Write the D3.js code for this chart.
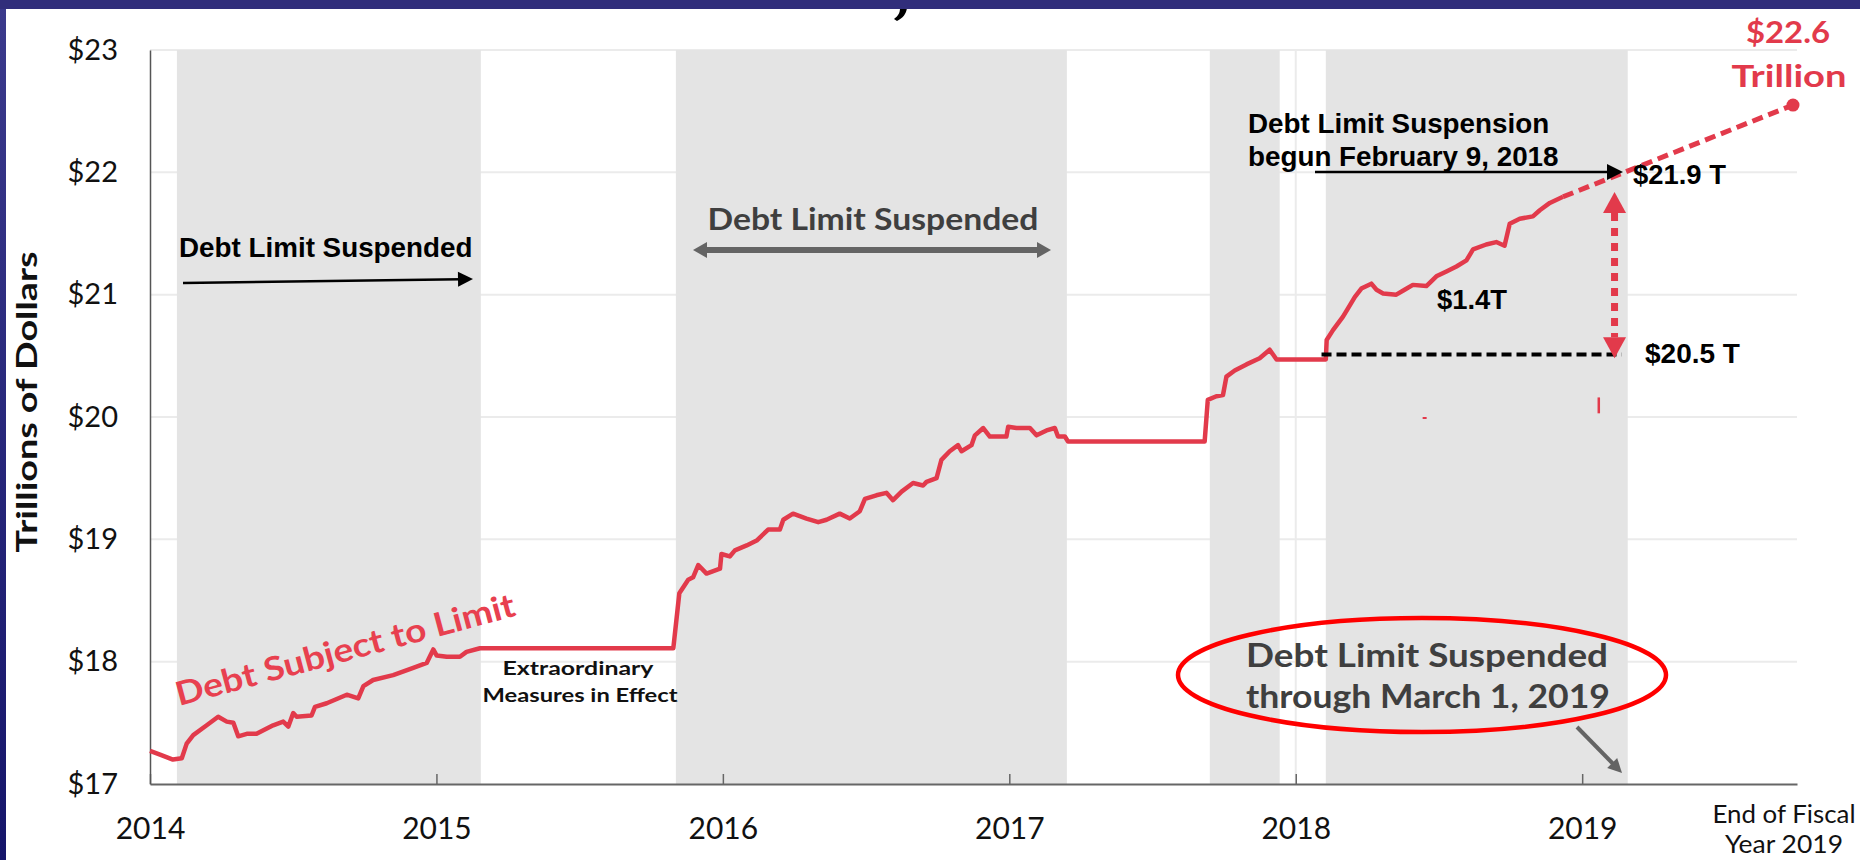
<!DOCTYPE html>
<html>
<head>
<meta charset="utf-8">
<script src="https://cdn.jsdelivr.net/npm/d3@7"></script>
<style>
  body { margin: 0; background: #fff; }
  svg { display: block; }
  .gill { font-family: Lato, "Open Sans", sans-serif; }
  .arial { font-family: "Liberation Sans", Arial, sans-serif; font-weight: bold; }
</style>
</head>
<body>
<svg id="chart"></svg>
<script>
// Chart data
const years = [2014, 2015, 2016, 2017, 2018, 2019];
const dollarTicks = [17, 18, 19, 20, 21, 22, 23];

// debt limit suspension periods [start, end] in decimal years
const suspensions = [
    [2014.094, 2015.155],
    [2015.836, 2017.201],
    [2017.700, 2017.944],
    [2018.105, 2019.159]
];

// debt subject to limit, trillions [decimal year, value]
const debtSubjectToLimit = [
    [2014.000, 17.27], [2014.035, 17.24], [2014.080, 17.20], [2014.111, 17.21], [2014.128, 17.33],
    [2014.151, 17.40], [2014.198, 17.48], [2014.238, 17.55], [2014.268, 17.51], [2014.291, 17.50],
    [2014.308, 17.39], [2014.338, 17.41], [2014.372, 17.41], [2014.430, 17.48], [2014.465, 17.51],
    [2014.483, 17.47], [2014.500, 17.58], [2014.512, 17.55], [2014.564, 17.56], [2014.576, 17.63],
    [2014.617, 17.66], [2014.687, 17.73], [2014.727, 17.70], [2014.745, 17.80], [2014.779, 17.85],
    [2014.849, 17.89], [2014.919, 17.95], [2014.966, 17.99], [2014.989, 18.10], [2015.001, 18.05],
    [2015.036, 18.04], [2015.082, 18.04], [2015.105, 18.08], [2015.152, 18.11], [2015.827, 18.11],
    [2015.848, 18.56], [2015.879, 18.67], [2015.896, 18.69], [2015.914, 18.79], [2015.943, 18.72],
    [2015.990, 18.76], [2015.995, 18.88], [2016.024, 18.86], [2016.042, 18.91], [2016.083, 18.95],
    [2016.118, 18.99], [2016.158, 19.08], [2016.199, 19.08], [2016.211, 19.16], [2016.245, 19.21],
    [2016.292, 19.17], [2016.333, 19.14], [2016.362, 19.16], [2016.408, 19.21], [2016.443, 19.17],
    [2016.478, 19.23], [2016.496, 19.33], [2016.536, 19.36], [2016.571, 19.38], [2016.594, 19.32],
    [2016.624, 19.39], [2016.664, 19.46], [2016.699, 19.44], [2016.711, 19.47], [2016.746, 19.50],
    [2016.763, 19.65], [2016.792, 19.72], [2016.821, 19.77], [2016.833, 19.72], [2016.868, 19.77],
    [2016.880, 19.85], [2016.909, 19.91], [2016.932, 19.84], [2016.990, 19.84], [2016.996, 19.92],
    [2017.025, 19.91], [2017.072, 19.91], [2017.095, 19.85], [2017.130, 19.89], [2017.159, 19.91],
    [2017.170, 19.84], [2017.194, 19.84], [2017.205, 19.80], [2017.682, 19.80], [2017.693, 20.14],
    [2017.723, 20.17], [2017.746, 20.18], [2017.758, 20.33], [2017.787, 20.38], [2017.828, 20.43],
    [2017.874, 20.48], [2017.909, 20.55], [2017.933, 20.47], [2018.105, 20.47], [2018.108, 20.63],
    [2018.130, 20.71], [2018.165, 20.82], [2018.183, 20.89], [2018.206, 20.98], [2018.229, 21.05],
    [2018.264, 21.09], [2018.282, 21.04], [2018.305, 21.01], [2018.351, 21.00], [2018.380, 21.04],
    [2018.409, 21.08], [2018.456, 21.07], [2018.491, 21.15], [2018.526, 21.19], [2018.561, 21.23],
    [2018.596, 21.28], [2018.619, 21.37], [2018.665, 21.41], [2018.700, 21.43], [2018.729, 21.40],
    [2018.747, 21.58], [2018.782, 21.62], [2018.828, 21.64], [2018.852, 21.69], [2018.887, 21.75],
    [2018.933, 21.80]
];

// projected path to end of fiscal year 2019
const projection = [[2018.933, 21.80], [2019.736, 22.55]];

// suspension gap markers
const limitAtSuspension = 20.51;
const gapArrow = { year: 2019.113, from: 20.48, to: 21.84 };

const red = "#e23a4b";

const svg = d3.select("#chart")
    .attr("width", 1860)
    .attr("height", 860);

const x = d3.scaleLinear().domain([2014, 2019.75]).range([150, 1797]);
const y = d3.scaleLinear().domain([17, 23]).range([784, 50]);

// tail of the cut-off slide title
svg.append("path")
    .attr("d", "M900,8 L907,8 C906,14 903,18 897,21 L894,19 C898,16 900,13 900,8 Z")
    .attr("fill", "#000");

// gridlines
svg.append("g").selectAll("line")
    .data(dollarTicks.slice(1))
    .enter().append("line")
    .attr("x1", x(2014)).attr("x2", x(2019.75))
    .attr("y1", d => y(d)).attr("y2", d => y(d))
    .attr("stroke", "#ebebeb").attr("stroke-width", 2);

svg.append("g").selectAll("line")
    .data(years.slice(1))
    .enter().append("line")
    .attr("x1", d => x(d)).attr("x2", d => x(d))
    .attr("y1", y(23)).attr("y2", y(17))
    .attr("stroke", "#ebebeb").attr("stroke-width", 2);

// suspension bands
svg.append("g").selectAll("rect")
    .data(suspensions)
    .enter().append("rect")
    .attr("x", d => x(d[0]))
    .attr("width", d => x(d[1]) - x(d[0]))
    .attr("y", y(23))
    .attr("height", y(17) - y(23))
    .attr("fill", "#e4e4e4");

// axes
const xAxis = svg.append("g")
    .attr("transform", `translate(0,${y(17)})`)
    .call(d3.axisBottom(x).tickValues(years).tickFormat(d3.format("d")).tickSize(-10).tickSizeOuter(0));
xAxis.select(".domain").attr("stroke", "#666").attr("stroke-width", 2);
xAxis.selectAll(".tick line").attr("stroke", "#666").attr("stroke-width", 1.5);
xAxis.selectAll(".tick text")
    .attr("class", "gill")
    .attr("y", 55).attr("dy", 0)
    .attr("fill", "#111")
    .style("font-size", "30px");

const yAxis = svg.append("g")
    .attr("transform", `translate(${x(2014)},0)`)
    .call(d3.axisLeft(y).tickValues(dollarTicks).tickFormat(d => "$" + d).tickSize(0).tickPadding(32));
yAxis.select(".domain").attr("stroke", "#555").attr("stroke-width", 1.5);
yAxis.selectAll(".tick text")
    .attr("class", "gill")
    .attr("fill", "#111")
    .style("font-size", "29px");

svg.append("text")
    .attr("class", "gill")
    .attr("transform", "translate(37,402) rotate(-90)")
    .attr("text-anchor", "middle")
    .attr("textLength", 301).attr("lengthAdjust", "spacingAndGlyphs")
    .style("font-size", "29px").style("font-weight", "bold")
    .attr("fill", "#111")
    .text("Trillions of Dollars");

const fiscal = svg.append("text")
    .attr("class", "gill")
    .attr("text-anchor", "middle")
    .attr("fill", "#111")
    .style("font-size", "25px");
fiscal.append("tspan").attr("x", 1784).attr("y", 823)
    .attr("textLength", 143).attr("lengthAdjust", "spacingAndGlyphs").text("End of Fiscal");
fiscal.append("tspan").attr("x", 1784).attr("y", 853)
    .attr("textLength", 118).attr("lengthAdjust", "spacingAndGlyphs").text("Year 2019");

// debt line
const line = d3.line()
    .x(d => x(d[0]))
    .y(d => y(d[1]));

svg.append("path")
    .datum(debtSubjectToLimit)
    .attr("d", line)
    .attr("fill", "none")
    .attr("stroke", red)
    .attr("stroke-width", 4.5)
    .attr("stroke-linejoin", "round");

svg.append("path")
    .datum(projection)
    .attr("d", line)
    .attr("fill", "none")
    .attr("stroke", red)
    .attr("stroke-width", 5)
    .attr("stroke-dasharray", "11,6");

svg.append("circle")
    .attr("cx", x(projection[1][0]))
    .attr("cy", y(projection[1][1]))
    .attr("r", 6.5)
    .attr("fill", red);

// helper for straight arrows
function arrow(x1, y1, x2, y2, color, width, headLen, headW, both) {
    const a = Math.atan2(y2 - y1, x2 - x1);
    const c = Math.cos(a), s = Math.sin(a);
    const g = svg.append("g");
    g.append("line")
        .attr("x1", both ? x1 + c * headLen * 0.8 : x1).attr("y1", both ? y1 + s * headLen * 0.8 : y1)
        .attr("x2", x2 - c * headLen * 0.8).attr("y2", y2 - s * headLen * 0.8)
        .attr("stroke", color).attr("stroke-width", width);
    const head = (tx, ty, dir) => {
        const bx = tx - dir * c * headLen, by = ty - dir * s * headLen;
        g.append("polygon")
            .attr("points", [
                [tx, ty],
                [bx - s * headW / 2, by + c * headW / 2],
                [bx + s * headW / 2, by - c * headW / 2]
            ].map(p => p.join(",")).join(" "))
            .attr("fill", color);
    };
    head(x2, y2, 1);
    if (both) head(x1, y1, -1);
}

// first suspension
svg.append("text")
    .attr("class", "arial")
    .attr("x", 179).attr("y", 257)
    .style("font-size", "27.8px")
    .text("Debt Limit Suspended");
arrow(183, 283, 473, 279, "#000", 2.5, 15, 15, false);

// second suspension
svg.append("text")
    .attr("class", "gill")
    .attr("x", 873).attr("y", 230)
    .attr("text-anchor", "middle")
    .attr("textLength", 331).attr("lengthAdjust", "spacingAndGlyphs")
    .style("font-size", "30px").style("font-weight", "bold")
    .attr("fill", "#3f3f3f")
    .text("Debt Limit Suspended");
arrow(693, 250, 1051, 250, "#646464", 6, 14, 16, true);

// extraordinary measures
const extra = svg.append("text")
    .attr("class", "gill")
    .attr("text-anchor", "middle")
    .attr("fill", "#111")
    .style("font-size", "19px").style("font-weight", "bold");
extra.append("tspan").attr("x", 578).attr("y", 675)
    .attr("textLength", 151).attr("lengthAdjust", "spacingAndGlyphs").text("Extraordinary");
extra.append("tspan").attr("x", 580).attr("y", 702)
    .attr("textLength", 195).attr("lengthAdjust", "spacingAndGlyphs").text("Measures in Effect");

// series label
svg.append("text")
    .attr("class", "gill")
    .attr("transform", "translate(179,706) rotate(-15)")
    .attr("textLength", 350).attr("lengthAdjust", "spacingAndGlyphs")
    .style("font-size", "33px").style("font-weight", "bold")
    .attr("fill", "#e8404f")
    .text("Debt Subject to Limit");

// current suspension annotations
const susp = svg.append("text")
    .attr("class", "arial")
    .style("font-size", "27.8px");
susp.append("tspan").attr("x", 1248).attr("y", 133).text("Debt Limit Suspension");
susp.append("tspan").attr("x", 1248).attr("y", 166).text("begun February 9, 2018");
arrow(1315, 172, 1623, 172, "#000", 2.5, 16, 16, false);

svg.append("text").attr("class", "arial")
    .attr("x", 1633).attr("y", 184)
    .style("font-size", "27.4px")
    .text("$21.9 T");
svg.append("text").attr("class", "arial")
    .attr("x", 1437).attr("y", 309)
    .style("font-size", "27.4px")
    .text("$1.4T");
svg.append("text").attr("class", "arial")
    .attr("x", 1645).attr("y", 363)
    .style("font-size", "28px")
    .text("$20.5 T");

// limit level at suspension
svg.append("line")
    .attr("x1", x(2018.09)).attr("x2", x(2019.138))
    .attr("y1", y(limitAtSuspension)).attr("y2", y(limitAtSuspension))
    .attr("stroke", "#000").attr("stroke-width", 4)
    .attr("stroke-dasharray", "10,5");

// growth since suspension: dotted double arrow
const gx = x(gapArrow.year);
const headLen = 21, headW = 23;
svg.append("line")
    .attr("x1", gx).attr("x2", gx)
    .attr("y1", y(gapArrow.to) + headLen).attr("y2", y(gapArrow.from) - headLen)
    .attr("stroke", red).attr("stroke-width", 7)
    .attr("stroke-dasharray", "8,7");
svg.append("polygon")
    .attr("points", `${gx},${y(gapArrow.to)} ${gx - headW / 2},${y(gapArrow.to) + headLen} ${gx + headW / 2},${y(gapArrow.to) + headLen}`)
    .attr("fill", red);
svg.append("polygon")
    .attr("points", `${gx},${y(gapArrow.from)} ${gx - headW / 2},${y(gapArrow.from) - headLen} ${gx + headW / 2},${y(gapArrow.from) - headLen}`)
    .attr("fill", red);

// stray marks in the source image
svg.append("rect")
    .attr("x", x(2018.45) - 2).attr("y", y(20.0))
    .attr("width", 4).attr("height", 2).attr("fill", red);
svg.append("line")
    .attr("x1", x(2019.058)).attr("x2", x(2019.058))
    .attr("y1", y(20.16)).attr("y2", y(20.03))
    .attr("stroke", red).attr("stroke-width", 2.5);

// end-of-year value
const endVal = svg.append("text")
    .attr("class", "gill")
    .attr("text-anchor", "middle")
    .attr("fill", red)
    .style("font-size", "30px").style("font-weight", "bold");
endVal.append("tspan").attr("x", 1788).attr("y", 43)
    .attr("textLength", 84).attr("lengthAdjust", "spacingAndGlyphs").text("$22.6");
endVal.append("tspan").attr("x", 1789).attr("y", 87)
    .attr("textLength", 115).attr("lengthAdjust", "spacingAndGlyphs").text("Trillion");

// suspended through March 1, 2019
svg.append("ellipse")
    .attr("cx", 1422).attr("cy", 675)
    .attr("rx", 244).attr("ry", 57)
    .attr("fill", "none")
    .attr("stroke", "#ff0000")
    .attr("stroke-width", 4.5);

const thru = svg.append("text")
    .attr("class", "gill")
    .attr("fill", "#3f3f3f")
    .style("font-size", "32px").style("font-weight", "bold");
thru.append("tspan").attr("x", 1246).attr("y", 667)
    .attr("textLength", 362).attr("lengthAdjust", "spacingAndGlyphs").text("Debt Limit Suspended");
thru.append("tspan").attr("x", 1246).attr("y", 708)
    .attr("textLength", 364).attr("lengthAdjust", "spacingAndGlyphs").text("through March 1, 2019");
arrow(1577, 727, 1622, 773, "#646464", 4, 14, 14, false);

// slide frame
const grad = svg.append("defs").append("linearGradient")
    .attr("id", "edge").attr("x1", 0).attr("y1", 0).attr("x2", 0).attr("y2", 1);
grad.append("stop").attr("offset", "0%").attr("stop-color", "#3b3a8c");
grad.append("stop").attr("offset", "100%").attr("stop-color", "#15156a");

svg.append("rect")
    .attr("x", 0).attr("y", 0).attr("width", 6).attr("height", 860)
    .attr("fill", "url(#edge)");
svg.append("rect")
    .attr("x", 0).attr("y", 0).attr("width", 1860).attr("height", 9)
    .attr("fill", "#312e7b");
</script>
</body>
</html>
